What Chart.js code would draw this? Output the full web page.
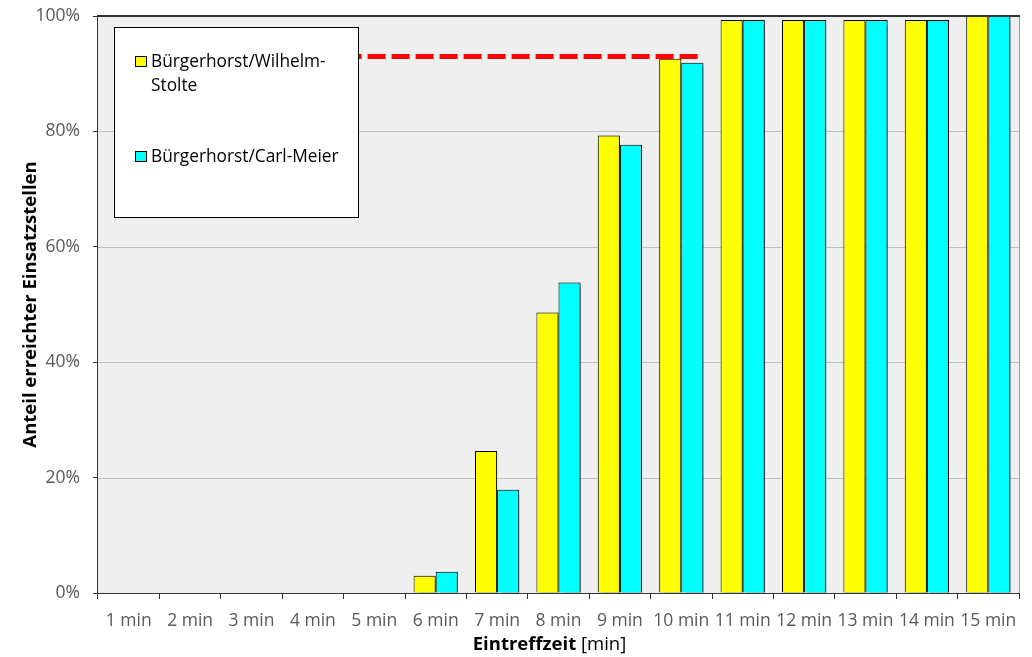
<!DOCTYPE html>
<html>
<head>
<meta charset="utf-8">
<script src="https://cdn.jsdelivr.net/npm/chart.js@4/dist/chart.umd.min.js"></script>
<style>
  html, body { margin: 0; padding: 0; background: #fff; }
  #wrap { width: 1032px; height: 657px; }
</style>
</head>
<body>
<div id="wrap"><canvas id="chart"></canvas></div>
<script>
// categories and values (share of reached locations, %)
var minutes = ["1 min", "2 min", "3 min", "4 min", "5 min", "6 min", "7 min", "8 min",
	"9 min", "10 min", "11 min", "12 min", "13 min", "14 min", "15 min"];
var wilhelmStolte = [0, 0, 0, 0, 0, 3.0, 24.6, 48.6, 79.3, 92.6, 99.3, 99.3, 99.3, 99.3, 100];
var carlMeier = [0, 0, 0, 0, 0, 3.7, 17.9, 53.8, 77.7, 91.9, 99.3, 99.3, 99.3, 99.3, 100];
var yTicks = [0, 20, 40, 60, 80, 100];

// target line (dashed red): value and start/end in category index units
// (starts behind the legend box)
var targetValue = 93.0;
var targetStart = 3.5;
var targetEnd = 9.31;

var legendLines = [
	{ color: "#ffff00", text: ["Bürgerhorst/Wilhelm-", "Stolte"] },
	{ color: "#00ffff", text: ["Bürgerhorst/Carl-Meier"] }
];

var FONT = "'Open Sans', sans-serif";

//draws plot background, grid, borders, legend box and axis titles
var decoPlugin = {
	id: "deco",
	beforeDatasetsDraw: function (chart) {
		var ctx = chart.ctx, a = chart.chartArea;
		ctx.save();
		ctx.fillStyle = "#efefef";
		ctx.fillRect(a.left, a.top, a.right - a.left, a.bottom - a.top);
		var y = chart.scales.y;
		ctx.strokeStyle = "#c0c0c0";
		ctx.lineWidth = 1;
		yTicks.forEach(function (t) {
			if (t === 0 || t === 100) return;
			var py = Math.round(y.getPixelForValue(t)) + 0.5;
			ctx.beginPath();
			ctx.moveTo(a.left, py);
			ctx.lineTo(a.right, py);
			ctx.stroke();
		});
		ctx.restore();
	},
	beforeDatasetDraw: function (chart, args) {
		if (args.meta.type !== "bar") return;
		var ctx = chart.ctx;
		ctx.save();
		ctx.shadowColor = "rgba(0,0,0,0.5)";
		ctx.shadowOffsetX = 2;
		ctx.shadowOffsetY = 1;
		ctx.shadowBlur = 1;
	},
	afterDatasetDraw: function (chart, args) {
		if (args.meta.type === "bar") chart.ctx.restore();
	},
	afterDatasetsDraw: function (chart) {
		var ctx = chart.ctx, a = chart.chartArea;
		ctx.save();
		// border lines
		ctx.strokeStyle = "#999";
		ctx.lineWidth = 1;
		ctx.beginPath();
		ctx.moveTo(Math.round(a.right) + 0.5, a.top);
		ctx.lineTo(Math.round(a.right) + 0.5, a.bottom);
		ctx.stroke();
		ctx.strokeStyle = "#333";
		ctx.lineWidth = 2;
		ctx.beginPath();
		ctx.moveTo(a.left, Math.round(a.top));
		ctx.lineTo(a.right + 1, Math.round(a.top));
		ctx.stroke();

		// legend box
		var lx = a.left + 16, ly = a.top + 11, lw = 244, lh = 190;
		ctx.fillStyle = "#fff";
		ctx.fillRect(lx, ly, lw, lh);
		ctx.strokeStyle = "#000";
		ctx.lineWidth = 1;
		ctx.strokeRect(lx + 0.5, ly + 0.5, lw, lh);
		ctx.font = "17.3px " + FONT;
		ctx.textBaseline = "middle";
		ctx.textAlign = "left";
		var itemY = [ly + 35, ly + 130];
		legendLines.forEach(function (item, i) {
			var sy = itemY[i];
			ctx.fillStyle = item.color;
			ctx.fillRect(lx + 21.5, sy - 5.5, 11, 10);
			ctx.strokeStyle = "#000";
			ctx.strokeRect(lx + 21.5, sy - 5.5, 11, 10);
			ctx.fillStyle = "#000";
			item.text.forEach(function (line, j) {
				ctx.fillText(line, lx + 37, sy + j * 24.5);
			});
		});

		// axis titles
		ctx.fillStyle = "#000";
		var tf = "18.5px " + FONT;
		ctx.font = "bold " + tf;
		var part1 = "Eintreffzeit ";
		var w1 = ctx.measureText(part1).width;
		ctx.font = tf;
		var part2 = "[min]";
		var w2 = ctx.measureText(part2).width;
		var sx = (a.left + a.right) / 2 - 9 - (w1 + w2) / 2;
		ctx.textAlign = "left";
		ctx.font = "bold " + tf;
		ctx.fillText(part1, sx, 645);
		ctx.font = tf;
		ctx.fillText(part2, sx + w1, 645);

		ctx.translate(31, (a.top + a.bottom) / 2);
		ctx.rotate(-Math.PI / 2);
		ctx.textAlign = "center";
		ctx.font = "bold " + tf;
		ctx.fillText("Anteil erreichter Einsatzstellen", 0, 0);
		ctx.restore();
	}
};

var targetPoints = [
	{ x: targetStart, y: targetValue },
	{ x: targetEnd, y: targetValue }
];

var chart = new Chart(document.getElementById("chart"), {
	type: "bar",
	data: {
		labels: minutes,
		datasets: [
			{
				label: "Bürgerhorst/Wilhelm-Stolte",
				data: wilhelmStolte,
				backgroundColor: "#ffff00",
				borderColor: "#000",
				borderWidth: 1,
				barPercentage: 1,
				categoryPercentage: 0.72,
				order: 2
			},
			{
				label: "Bürgerhorst/Carl-Meier",
				data: carlMeier,
				backgroundColor: "#00ffff",
				borderColor: "#000",
				borderWidth: 1,
				barPercentage: 1,
				categoryPercentage: 0.72,
				order: 3
			},
			{
				// x given as category index so the line can stop between categories
				type: "line",
				label: "Ziel",
				data: targetPoints,
				parsing: false,
				borderColor: "#ff0000",
				borderWidth: 5,
				borderDash: [18, 6],
				borderCapStyle: "butt",
				pointRadius: 0,
				fill: false,
				order: 1
			}
		]
	},
	options: {
		responsive: true,
		maintainAspectRatio: false,
		animation: false,
		devicePixelRatio: 1,
		layout: { padding: { left: 0, top: 16, right: 13, bottom: 0 } },
		plugins: {
			legend: { display: false },
			tooltip: { enabled: false }
		},
		scales: {
			x: {
				type: "category",
				offset: true,
				grid: {
					display: true,
					offset: true,
					drawOnChartArea: false,
					drawTicks: true,
					tickLength: 6,
					color: "#333"
				},
				border: { color: "#333", width: 2 },
				ticks: {
					color: "#595959",
					font: { size: 17.5, family: FONT },
					padding: 12,
					maxRotation: 0,
					autoSkip: false
				},
				afterFit: function (s) { s.height = 64; s.paddingLeft = 0; s.paddingRight = 0; }
			},
			y: {
				min: 0,
				max: 100,
				afterBuildTicks: function (s) {
					s.ticks = yTicks.map(function (v) { return { value: v }; });
				},
				grid: {
					drawOnChartArea: false,
					drawTicks: true,
					tickLength: 5,
					color: "#333"
				},
				border: { color: "#333", width: 2 },
				ticks: {
					color: "#595959",
					font: { size: 17.5, family: FONT },
					padding: 13,
					callback: function (v) { return v + "%"; }
				},
				afterFit: function (s) { s.width = 98; s.paddingTop = 0; s.paddingBottom = 0; }
			}
		}
	},
	plugins: [decoPlugin]
});
</script>
</body>
</html>
